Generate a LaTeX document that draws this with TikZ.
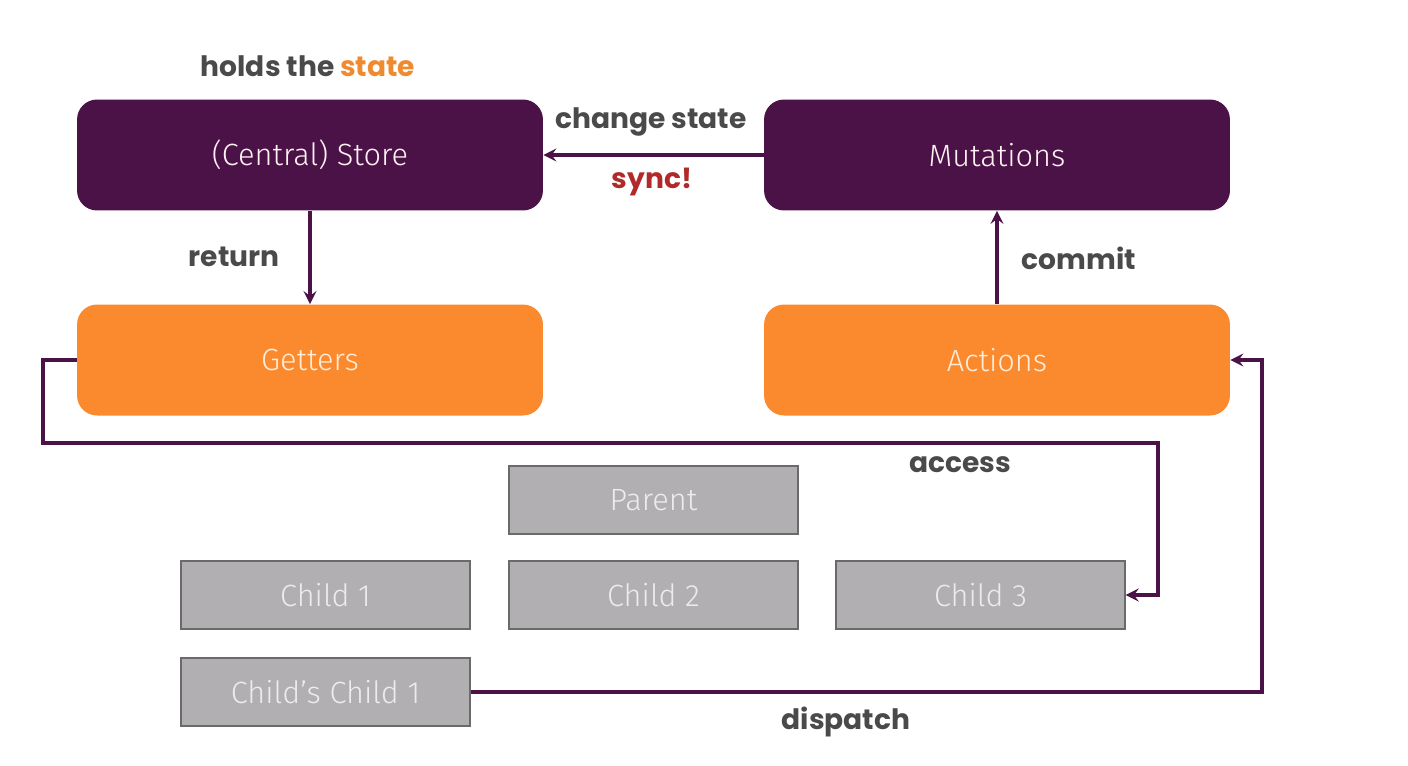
\documentclass[tikz,border=0pt]{standalone}
\usepackage{fontspec}
\usepackage{tikz}
\usetikzlibrary{shapes.geometric, arrows}
\newfontfamily\labelfont{Poppins}
\newfontfamily\boxfont{Fira Sans Light}
\definecolor{vuexpurple}{HTML}{4B1247}
\definecolor{vuexorange}{HTML}{FB8A2E}
\definecolor{childgray}{HTML}{B1AFB1}
\definecolor{childline}{HTML}{6A6A6A}
\definecolor{labelgray}{HTML}{4A4A4A}
\definecolor{syncred}{HTML}{B02A2A}
\definecolor{statetext}{HTML}{F08A30}

\begin{document}
\begin{tikzpicture}[x=0.02cm, y=-0.02cm]
      \tikzstyle{storebox} = [rectangle, rounded corners=0.4cm, minimum width=9.32cm, minimum height=2.22cm, text centered, fill=vuexpurple, text=pink!20, font=\boxfont\fontsize{17.5}{20}\selectfont]
      \tikzstyle{helperbox} = [rectangle, rounded corners=0.4cm, minimum width=9.32cm, minimum height=2.22cm, text centered, fill=vuexorange, text=orange!15, font=\boxfont\fontsize{17.5}{20}\selectfont]
      \tikzstyle{childbox} = [rectangle, minimum width=5.78cm, minimum height=1.36cm, text centered, draw=childline, line width=0.8pt, fill=childgray, text=gray!15, font=\boxfont\fontsize{17.5}{20}\selectfont]
      \tikzstyle{tag} = [text=labelgray, font=\labelfont\bfseries\fontsize{16}{19}\selectfont]
      \tikzstyle{arrow} = [line width=2.2pt, draw=vuexpurple, ->, >=stealth]

      \useasboundingbox (0,0) rectangle (1408,765);

      % vuex parts
      \node (store) [storebox] at (310,155) {(Central) Store};
      \node (mutations) [storebox] at (997,155) {Mutations};
      \node (getters) [helperbox] at (310,360) {Getters};
      \node (actions) [helperbox] at (997,360) {Actions};

      % components
      \node (parent) [childbox] at (653.5,500) {Parent};
      \node (child1) [childbox] at (325.5,595) {Child 1};
      \node (child2) [childbox] at (653.5,595) {Child 2};
      \node (child3) [childbox] at (980.5,595) {Child 3};
      \node (childchild1) [childbox] at (325.5,692) {Child’s Child 1};

      % labels
      \node (holds) [tag] at (308,66) {holds the \textcolor{statetext}{state}};
      \node (change) [tag] at (651,122) {change state};
      \node (sync) [tag, text=syncred] at (652,182) {sync!};
      \node (return) [tag] at (234,257) {return};
      \node (commit) [tag] at (1079,258) {commit};
      \node (access) [tag] at (960,465) {access};
      \node (dispatch) [tag] at (846,722) {dispatch};

      % connectors
      \coordinate (accessturn) at (1158,443);
      \coordinate (dispatchturn) at (1262,692);
      \draw [arrow] (mutations) -- (store);
      \draw [arrow] (store) -- (getters);
      \draw [arrow] (actions) -- (mutations);
      \draw [arrow] (getters.west) -- ++(-34,0) |- (accessturn) |- (child3.east);
      \draw [arrow] (childchild1.east) -- (dispatchturn) |- (actions.east);

\end{tikzpicture}
\end{document}
